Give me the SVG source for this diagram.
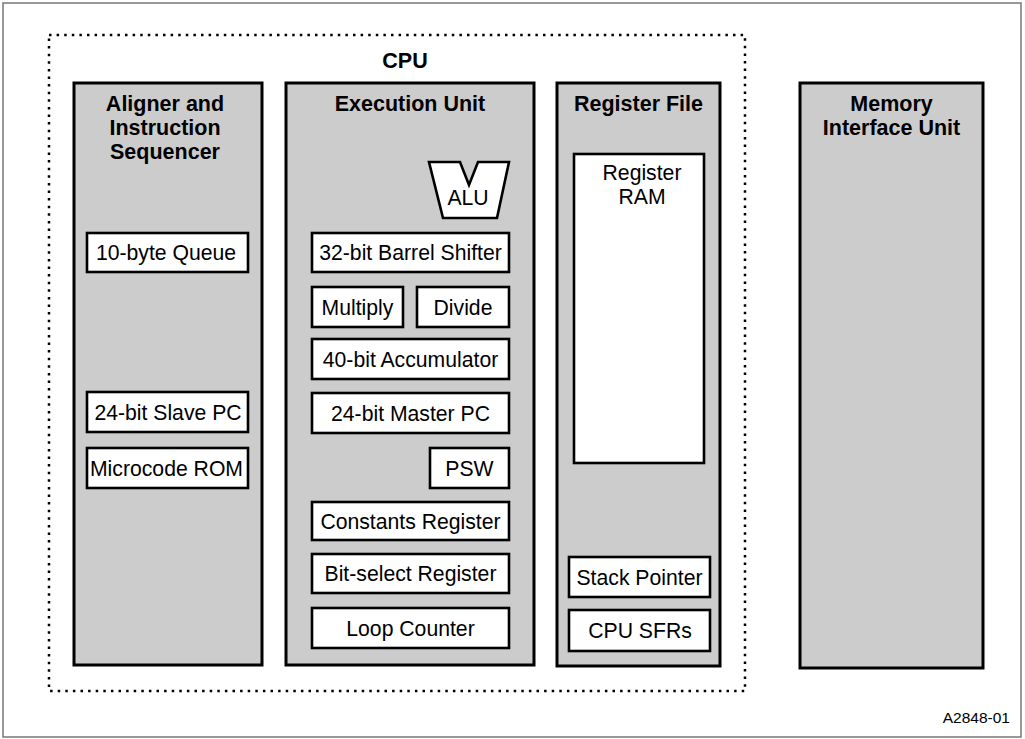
<svg xmlns="http://www.w3.org/2000/svg" width="1025" height="739" viewBox="0 0 1025 739">
  <style>
    .frame { fill: none; stroke: #777777; stroke-width: 1.5; }
    .cpu { fill: none; stroke: #000000; stroke-width: 2.5; stroke-dasharray: 2.5 5.1; }
    .unit { fill: #cccccc; stroke: #000000; stroke-width: 3; }
    .cell { fill: #ffffff; stroke: #000000; stroke-width: 2.6; }
    .head { font-family: "Liberation Sans", Arial, sans-serif; font-weight: bold; font-size: 21.5px; text-anchor: middle; fill: #000000; }
    .label { font-family: "Liberation Sans", Arial, sans-serif; font-size: 21.2px; text-anchor: middle; fill: #000000; }
    .ref { font-family: "Liberation Sans", Arial, sans-serif; font-size: 15.5px; text-anchor: end; fill: #000000; }
  </style>

  <rect class="frame" x="3" y="3" width="1018" height="734"/>

  <!-- CPU boundary -->
  <g id="cpu">
    <rect class="cpu" x="49" y="35" width="696" height="656"/>
    <text class="head" x="405" y="68">CPU</text>
  </g>

  <!-- Aligner and Instruction Sequencer -->
  <g id="aligner">
    <rect class="unit" x="74" y="83" width="188" height="582"/>
    <text class="head" x="165" y="111">Aligner and</text>
    <text class="head" x="165" y="135">Instruction</text>
    <text class="head" x="165" y="159">Sequencer</text>
    <g id="queue">
      <rect class="cell" x="87" y="233" width="161" height="39"/>
      <text class="label" x="166" y="260">10-byte Queue</text>
    </g>
    <g id="slave-pc">
      <rect class="cell" x="87" y="392" width="161" height="40"/>
      <text class="label" x="168" y="419.5">24-bit Slave PC</text>
    </g>
    <g id="microcode-rom">
      <rect class="cell" x="87" y="448" width="161" height="40"/>
      <text class="label" x="166.5" y="475.5">Microcode ROM</text>
    </g>
  </g>

  <!-- Execution Unit -->
  <g id="execution-unit">
    <rect class="unit" x="286" y="83" width="248" height="582"/>
    <text class="head" x="410" y="111">Execution Unit</text>
    <g id="alu">
      <polygon class="cell" points="429,162 460,162 469,185 478,162 509,162 497,218 443,218"/>
      <text class="label" x="468" y="205">ALU</text>
    </g>
    <g id="barrel-shifter">
      <rect class="cell" x="312" y="233" width="197" height="39"/>
      <text class="label" x="410.5" y="260">32-bit Barrel Shifter</text>
    </g>
    <g id="multiply">
      <rect class="cell" x="312" y="287" width="91" height="40"/>
      <text class="label" x="357.5" y="314.5">Multiply</text>
    </g>
    <g id="divide">
      <rect class="cell" x="417" y="287" width="92" height="40"/>
      <text class="label" x="463" y="314.5">Divide</text>
    </g>
    <g id="accumulator">
      <rect class="cell" x="312" y="339" width="197" height="40"/>
      <text class="label" x="410.5" y="366.5">40-bit Accumulator</text>
    </g>
    <g id="master-pc">
      <rect class="cell" x="312" y="393" width="197" height="40"/>
      <text class="label" x="410.5" y="420.5">24-bit Master PC</text>
    </g>
    <g id="psw">
      <rect class="cell" x="430" y="448" width="79" height="40"/>
      <text class="label" x="469.5" y="475.5">PSW</text>
    </g>
    <g id="constants-register">
      <rect class="cell" x="312" y="502" width="197" height="38"/>
      <text class="label" x="410.5" y="528.5">Constants Register</text>
    </g>
    <g id="bit-select-register">
      <rect class="cell" x="312" y="554" width="197" height="39"/>
      <text class="label" x="410.5" y="581">Bit-select Register</text>
    </g>
    <g id="loop-counter">
      <rect class="cell" x="312" y="608" width="197" height="40"/>
      <text class="label" x="410.5" y="635.5">Loop Counter</text>
    </g>
  </g>

  <!-- Register File -->
  <g id="register-file">
    <rect class="unit" x="557" y="83" width="163" height="583"/>
    <text class="head" x="638.5" y="111">Register File</text>
    <g id="register-ram">
      <rect class="cell" x="574" y="154" width="130" height="309"/>
      <text class="label" x="642" y="180">Register</text>
      <text class="label" x="642" y="204">RAM</text>
    </g>
    <g id="stack-pointer">
      <rect class="cell" x="569" y="557" width="141" height="40"/>
      <text class="label" x="639.5" y="584.5">Stack Pointer</text>
    </g>
    <g id="cpu-sfrs">
      <rect class="cell" x="569" y="610" width="141" height="41"/>
      <text class="label" x="640" y="638">CPU SFRs</text>
    </g>
  </g>

  <!-- Memory Interface Unit -->
  <g id="memory-interface-unit">
    <rect class="unit" x="800" y="83" width="183" height="585"/>
    <text class="head" x="891.5" y="111">Memory</text>
    <text class="head" x="891.5" y="135">Interface Unit</text>
  </g>

  <!-- no interconnects are drawn between units -->
  <g id="connectors"/>

  <text class="ref" x="1010" y="723">A2848-01</text>
</svg>
